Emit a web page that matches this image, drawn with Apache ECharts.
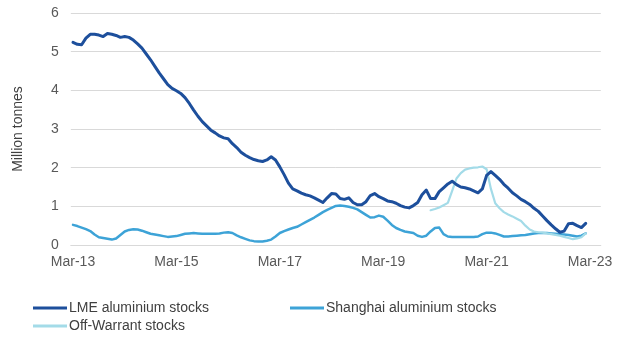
<!DOCTYPE html>
<html>
<head>
<meta charset="utf-8">
<style>
  html, body { margin: 0; padding: 0; background: #ffffff; }
  #chart { width: 618px; height: 342px; }
</style>
<script src="https://cdn.jsdelivr.net/npm/echarts@6/dist/echarts.min.js"></script>
</head>
<body>
<div id="chart"></div>
<script>
// Monthly aluminium stocks, million tonnes, Mar-13 onwards
const seriesNames = ['LME aluminium stocks', 'Shanghai aluminium stocks', 'Off-Warrant stocks'];
const tickLabels = ['Mar-13', 'Mar-15', 'Mar-17', 'Mar-19', 'Mar-21', 'Mar-23'];
const firstMonth = { year: 2013, month: 2 };   // March 2013
const monthCount = 123;                         // axis runs a little past Mar-23
const offWarrantFirst = 'Feb-20';

const lmeStocks = [
  5.24, 5.19, 5.18, 5.35, 5.45, 5.45, 5.43, 5.39, 5.47, 5.45, 5.42, 5.37,
  5.39, 5.37, 5.30, 5.20, 5.09, 4.94, 4.79, 4.62, 4.45, 4.30, 4.15, 4.05,
  3.99, 3.92, 3.81, 3.66, 3.49, 3.33, 3.19, 3.08, 2.97, 2.90, 2.82, 2.77,
  2.75, 2.62, 2.52, 2.40, 2.32, 2.26, 2.21, 2.18, 2.16, 2.20, 2.28, 2.20,
  2.02, 1.82, 1.60, 1.45, 1.40, 1.34, 1.30, 1.27, 1.22, 1.16, 1.10, 1.22,
  1.33, 1.32, 1.20, 1.18, 1.22, 1.10, 1.04, 1.04, 1.12, 1.28, 1.33, 1.25,
  1.20, 1.14, 1.12, 1.08, 1.02, 0.98, 0.96, 1.02, 1.10, 1.30, 1.42, 1.20,
  1.20, 1.38, 1.48, 1.58, 1.65, 1.56, 1.50, 1.48, 1.45, 1.40, 1.35, 1.45,
  1.80, 1.90, 1.80, 1.70, 1.57, 1.47, 1.35, 1.27, 1.18, 1.12, 1.05, 0.95,
  0.87, 0.75, 0.63, 0.52, 0.42, 0.33, 0.36, 0.55, 0.56, 0.50, 0.45, 0.56
];

const shanghaiStocks = [
  0.52, 0.49, 0.45, 0.41, 0.36, 0.27, 0.20, 0.18, 0.16, 0.14, 0.17, 0.26,
  0.35, 0.39, 0.41, 0.40, 0.37, 0.33, 0.29, 0.27, 0.25, 0.23, 0.21, 0.22,
  0.23, 0.26, 0.29, 0.30, 0.31, 0.30, 0.29, 0.29, 0.29, 0.29, 0.30, 0.32,
  0.33, 0.31, 0.25, 0.20, 0.16, 0.12, 0.10, 0.09, 0.09, 0.11, 0.14, 0.22,
  0.31, 0.36, 0.40, 0.44, 0.47, 0.53, 0.59, 0.65, 0.71, 0.78, 0.85, 0.91,
  0.96, 1.01, 1.02, 1.01, 0.99, 0.96, 0.92, 0.85, 0.78, 0.71, 0.72, 0.76,
  0.73, 0.63, 0.52, 0.44, 0.39, 0.35, 0.33, 0.31, 0.24, 0.21, 0.24, 0.35,
  0.44, 0.45, 0.28, 0.22, 0.21, 0.21, 0.21, 0.21, 0.21, 0.21, 0.22, 0.28,
  0.32, 0.32, 0.30, 0.26, 0.22, 0.22, 0.23, 0.24, 0.25, 0.26, 0.28, 0.30,
  0.31, 0.31, 0.31, 0.30, 0.29, 0.28, 0.27, 0.26, 0.24, 0.22, 0.24, 0.30
];

const offWarrantStocks = [
  0.90, 0.93, 0.97, 1.03, 1.09, 1.40, 1.72, 1.86, 1.95, 1.98, 2.00, 2.01,
  2.03, 1.96, 1.45, 1.08, 0.95, 0.85, 0.79, 0.74, 0.68, 0.62, 0.50, 0.40,
  0.35, 0.33, 0.32, 0.30, 0.28, 0.26, 0.24, 0.21, 0.18, 0.15, 0.17, 0.20,
  0.30
];

const colors = ['#1d4f9c', '#3da3d7', '#a3dbe8'];
const lineWidths = [3, 2.5, 2.2];

// Month category labels such as "Mar-13"
const monthNames = ['Jan', 'Feb', 'Mar', 'Apr', 'May', 'Jun', 'Jul', 'Aug', 'Sep', 'Oct', 'Nov', 'Dec'];
const months = [];
for (let k = 0; k < monthCount; k++) {
  const m = firstMonth.month + k;
  const y = firstMonth.year + Math.floor(m / 12);
  months.push(monthNames[m % 12] + '-' + String(y % 100).padStart(2, '0'));
}

const offStart = months.indexOf(offWarrantFirst);
const offWarrantSeries = new Array(offStart).fill(null).concat(offWarrantStocks);

const seriesData = [lmeStocks, shanghaiStocks, offWarrantSeries];

const fontFamily = "'Liberation Sans', Arial, sans-serif";

const chart = echarts.init(document.getElementById('chart'), null, { renderer: 'canvas' });

const legendSpots = [
  { left: 33, top: 301 },
  { left: 290, top: 301 },
  { left: 33, top: 319 }
];

chart.setOption({
  backgroundColor: '#ffffff',
  animation: false,
  color: colors,
  textStyle: { fontFamily: fontFamily },
  grid: { left: 70.85, right: 17.2, top: 13, bottom: 97, containLabel: false },
  legend: seriesNames.map((name, i) => ({
    data: [name],
    left: legendSpots[i].left,
    top: legendSpots[i].top,
    orient: 'horizontal',
    icon: 'rect',
    itemWidth: 34,
    itemHeight: 3,
    padding: 0,
    selectedMode: false,
    textStyle: { color: '#404040', fontSize: 14, fontFamily: fontFamily, padding: [0, 0, 0, -3] }
  })),
  xAxis: {
    type: 'category',
    data: months,
    boundaryGap: true,
    axisLine: { show: true, lineStyle: { color: '#d9d9d9', width: 1 } },
    axisTick: { show: false },
    axisLabel: {
      interval: (idx, value) => tickLabels.includes(value),
      color: '#595959',
      fontSize: 14,
      margin: 10,
      fontFamily: fontFamily
    },
    splitLine: { show: false }
  },
  yAxis: {
    type: 'value',
    min: 0,
    max: 6,
    interval: 1,
    name: 'Million tonnes',
    nameLocation: 'middle',
    nameGap: 46,
    nameRotate: 90,
    nameTextStyle: { color: '#404040', fontSize: 14, fontFamily: fontFamily },
    axisLine: { show: false },
    axisTick: { show: false },
    axisLabel: { color: '#595959', fontSize: 14, margin: 12, fontFamily: fontFamily },
    splitLine: { show: true, lineStyle: { color: '#d9d9d9', width: 1 } }
  },
  series: seriesNames.map((name, i) => ({
    name: name,
    type: 'line',
    data: seriesData[i],
    showSymbol: false,
    symbol: 'none',
    connectNulls: false,
    z: i === 0 ? 5 : 3,
    lineStyle: { color: colors[i], width: lineWidths[i], join: 'round', cap: 'round' },
    itemStyle: { color: colors[i] }
  }))
});
</script>
</body>
</html>
